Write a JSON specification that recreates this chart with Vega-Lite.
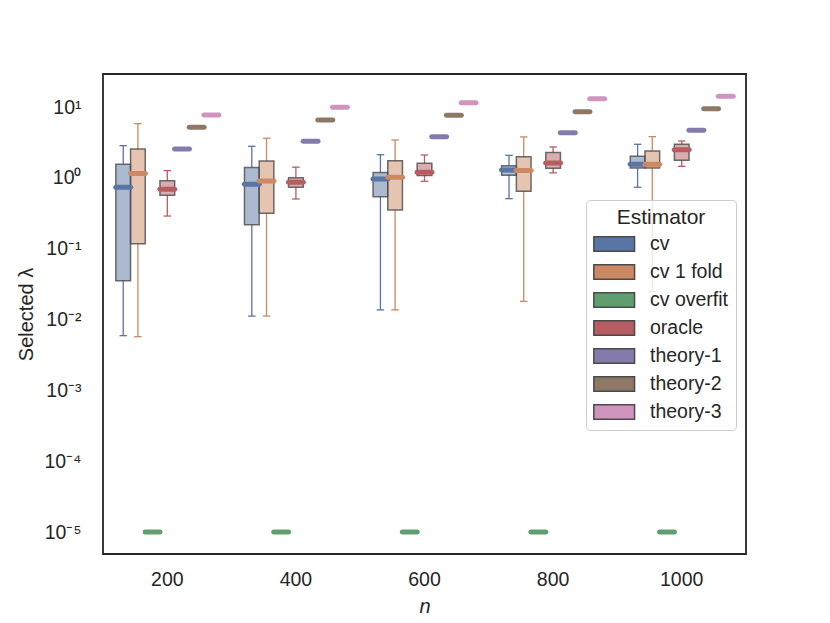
{
  "$schema": "https://vega.github.io/schema/vega-lite/v6.json",
  "width": 643,
  "height": 480,
  "autosize": {"type": "none"},
  "padding": {"left": 103, "top": 74, "right": 84, "bottom": 69},
  "data": {
    "values": [
      {"n": 200, "Estimator": "cv", "lo": 0.00593, "q1": 0.0354, "med": 0.74, "q3": 1.56, "hi": 2.86},
      {"n": 200, "Estimator": "cv 1 fold", "lo": 0.00573, "q1": 0.118, "med": 1.16, "q3": 2.57, "hi": 5.85},
      {"n": 200, "Estimator": "cv overfit", "med": 0.00001},
      {"n": 200, "Estimator": "oracle", "lo": 0.29, "q1": 0.57, "med": 0.692, "q3": 0.916, "hi": 1.27},
      {"n": 200, "Estimator": "theory-1", "med": 2.57},
      {"n": 200, "Estimator": "theory-2", "med": 5.2},
      {"n": 200, "Estimator": "theory-3", "med": 7.76},
      {"n": 400, "Estimator": "cv", "lo": 0.0112, "q1": 0.219, "med": 0.815, "q3": 1.4, "hi": 2.8},
      {"n": 400, "Estimator": "cv 1 fold", "lo": 0.0112, "q1": 0.317, "med": 0.907, "q3": 1.74, "hi": 3.64},
      {"n": 400, "Estimator": "cv overfit", "med": 0.00001},
      {"n": 400, "Estimator": "oracle", "lo": 0.505, "q1": 0.74, "med": 0.869, "q3": 1.01, "hi": 1.42},
      {"n": 400, "Estimator": "theory-1", "med": 3.3},
      {"n": 400, "Estimator": "theory-2", "med": 6.59},
      {"n": 400, "Estimator": "theory-3", "med": 9.97},
      {"n": 600, "Estimator": "cv", "lo": 0.0137, "q1": 0.545, "med": 0.968, "q3": 1.19, "hi": 2.13},
      {"n": 600, "Estimator": "cv 1 fold", "lo": 0.0137, "q1": 0.353, "med": 1.02, "q3": 1.75, "hi": 3.44},
      {"n": 600, "Estimator": "cv overfit", "med": 0.00001},
      {"n": 600, "Estimator": "oracle", "lo": 0.898, "q1": 1.08, "med": 1.2, "q3": 1.61, "hi": 2.11},
      {"n": 600, "Estimator": "theory-1", "med": 3.83},
      {"n": 600, "Estimator": "theory-2", "med": 7.69},
      {"n": 600, "Estimator": "theory-3", "med": 11.5},
      {"n": 800, "Estimator": "cv", "lo": 0.51, "q1": 1.09, "med": 1.3, "q3": 1.49, "hi": 2.09},
      {"n": 800, "Estimator": "cv 1 fold", "lo": 0.0181, "q1": 0.649, "med": 1.28, "q3": 2.0, "hi": 3.8},
      {"n": 800, "Estimator": "cv overfit", "med": 0.00001},
      {"n": 800, "Estimator": "oracle", "lo": 1.18, "q1": 1.37, "med": 1.63, "q3": 2.28, "hi": 2.74},
      {"n": 800, "Estimator": "theory-1", "med": 4.36},
      {"n": 800, "Estimator": "theory-2", "med": 8.64},
      {"n": 800, "Estimator": "theory-3", "med": 13.1},
      {"n": 1000, "Estimator": "cv", "lo": 0.74, "q1": 1.38, "med": 1.56, "q3": 2.02, "hi": 2.99},
      {"n": 1000, "Estimator": "cv 1 fold", "lo": 0.0248, "q1": 1.38, "med": 1.56, "q3": 2.41, "hi": 3.83},
      {"n": 1000, "Estimator": "cv overfit", "med": 0.00001},
      {"n": 1000, "Estimator": "oracle", "lo": 1.46, "q1": 1.78, "med": 2.51, "q3": 2.99, "hi": 3.33},
      {"n": 1000, "Estimator": "theory-1", "med": 4.72},
      {"n": 1000, "Estimator": "theory-2", "med": 9.52},
      {"n": 1000, "Estimator": "theory-3", "med": 14.3}
    ]
  },
  "encoding": {
    "x": {
      "field": "n",
      "type": "ordinal",
      "title": "n",
      "scale": {"paddingInner": 0.2, "paddingOuter": 0.1},
      "axis": {"labelAngle": 0, "titleFontStyle": "italic", "titlePadding": 8}
    },
    "xOffset": {
      "field": "Estimator",
      "type": "nominal",
      "scale": {
        "domain": ["cv", "cv 1 fold", "cv overfit", "oracle", "theory-1", "theory-2", "theory-3"],
        "paddingInner": 0,
        "paddingOuter": 0
      }
    },
    "color": {
      "field": "Estimator",
      "type": "nominal",
      "title": "Estimator",
      "scale": {
        "domain": ["cv", "cv 1 fold", "cv overfit", "oracle", "theory-1", "theory-2", "theory-3"],
        "range": ["#5875a4", "#cc8963", "#5f9e6e", "#b55d60", "#857aab", "#8d7866", "#d095bf"]
      }
    }
  },
  "layer": [
    {
      "mark": {"type": "bar", "width": 1.3},
      "encoding": {
        "y": {
          "field": "lo",
          "type": "quantitative",
          "title": "Selected λ",
          "scale": {"type": "log", "domain": [0.00000489, 29.4], "nice": false},
          "axis": {
            "values": [0.00001, 0.0001, 0.001, 0.01, 0.1, 1, 10],
            "labelExpr": "'10' + ['⁻⁵','⁻⁴','⁻³','⁻²','⁻¹','⁰','¹'][round(log(datum.value) / LN10) + 5]"
          }
        },
        "y2": {"field": "q1"}
      }
    },
    {
      "mark": {"type": "bar", "width": 1.3},
      "encoding": {
        "y": {"field": "q3", "type": "quantitative"},
        "y2": {"field": "hi"}
      }
    },
    {
      "mark": {"type": "tick", "thickness": 1.3, "size": 7.5, "opacity": 1},
      "encoding": {
        "y": {"field": "lo", "type": "quantitative"}
      }
    },
    {
      "mark": {"type": "tick", "thickness": 1.3, "size": 7.5, "opacity": 1},
      "encoding": {
        "y": {"field": "hi", "type": "quantitative"}
      }
    },
    {
      "mark": {"type": "bar", "fillOpacity": 0.5, "stroke": "#4a4a4a", "strokeOpacity": 0.8, "strokeWidth": 1.5},
      "encoding": {
        "y": {"field": "q1", "type": "quantitative"},
        "y2": {"field": "q3"},
        "width": {"band": 1}
      }
    },
    {
      "mark": {"type": "tick", "thickness": 5, "size": 20, "cornerRadius": 2.5, "opacity": 1},
      "encoding": {
        "y": {"field": "med", "type": "quantitative"}
      }
    }
  ],
  "config": {
    "font": "Liberation Sans",
    "view": {"stroke": "#262626", "strokeWidth": 1.8},
    "axis": {
      "domain": false,
      "grid": false,
      "ticks": false,
      "labelFontSize": 19.5,
      "labelColor": "#262626",
      "titleFontSize": 20,
      "titleFontWeight": "normal",
      "titleColor": "#262626"
    },
    "axisX": {"labelPadding": 16},
    "axisY": {"labelPadding": 22, "titlePadding": 7},
    "legend": {
      "orient": "none",
      "legendX": 483,
      "legendY": 126,
      "padding": 7,
      "fillColor": "rgba(255,255,255,0.8)",
      "strokeColor": "#cccccc",
      "cornerRadius": 4,
      "titleFontSize": 21,
      "titleFontWeight": "normal",
      "titleColor": "#262626",
      "titleAnchor": "middle",
      "labelFontSize": 19.5,
      "labelColor": "#262626",
      "symbolType": "M-1,-0.72H3V0.72H-1Z",
      "symbolSize": 415,
      "symbolOpacity": 1,
      "symbolStrokeColor": "#4a4a4a",
      "symbolStrokeWidth": 1.5,
      "rowPadding": 6,
      "labelOffset": 35
    }
  }
}
